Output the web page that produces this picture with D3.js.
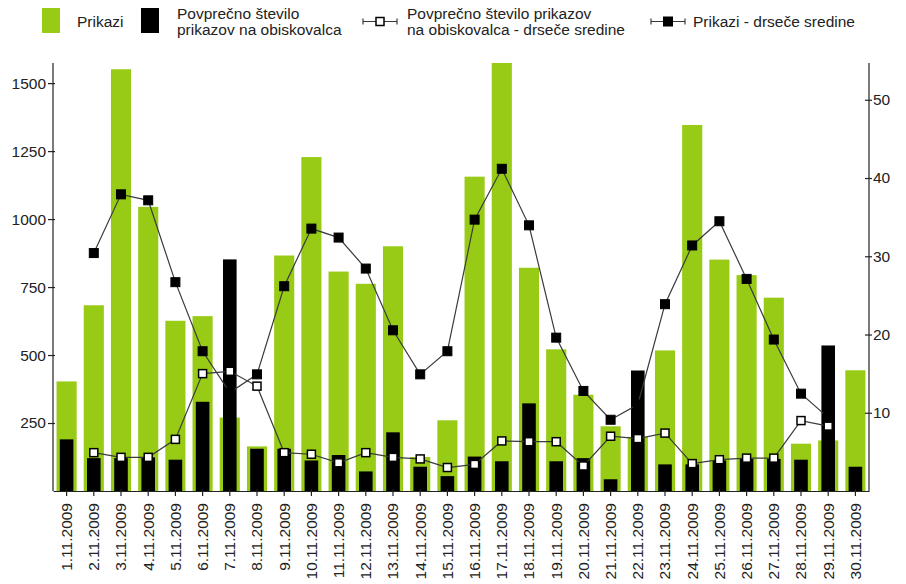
<!DOCTYPE html>
<html>
<head>
<meta charset="utf-8">
<script src="https://cdn.jsdelivr.net/npm/d3@7"></script>
<style>
  body { margin: 0; background: #ffffff; }
  text { font-family: "Liberation Sans", Arial, sans-serif; fill: #222; }
</style>
</head>
<body>
<div id="chart"></div>
<script>
const days = [
  "1.11.2009", "2.11.2009", "3.11.2009", "4.11.2009", "5.11.2009",
  "6.11.2009", "7.11.2009", "8.11.2009", "9.11.2009", "10.11.2009",
  "11.11.2009", "12.11.2009", "13.11.2009", "14.11.2009", "15.11.2009",
  "16.11.2009", "17.11.2009", "18.11.2009", "19.11.2009", "20.11.2009",
  "21.11.2009", "22.11.2009", "23.11.2009", "24.11.2009", "25.11.2009",
  "26.11.2009", "27.11.2009", "28.11.2009", "29.11.2009", "30.11.2009"
];
// Prikazi (left axis)
const prikazi = [403, 683, 1551, 1045, 626, 643, 270, 164, 866, 1228,
  807, 762, 900, 125, 260, 1156, 1574, 821, 521, 354,
  238, 199, 517, 1346, 851, 794, 711, 174, 186, 444];
// Povprecno stevilo prikazov na obiskovalca (right axis)
const povprecno = [6.6, 4.2, 4.2, 4.3, 4.0, 11.4, 29.6, 5.4, 5.4, 3.9,
  4.6, 2.5, 7.5, 3.1, 1.9, 4.4, 3.8, 11.2, 3.8, 4.2,
  1.5, 15.4, 3.4, 3.4, 3.9, 4.1, 4.1, 4.0, 18.6, 3.1];
// Prikazi - drsece sredine (left axis)
const prikaziSredine = [null, 875, 1091, 1069, 768, 514, 362, 429, 753, 965,
  932, 818, 591, 429, 514, 998, 1185, 977, 564, 368,
  262, 318, 687, 903, 992, 780, 557, 358, 270, null];
// Povprecno ... - drsece sredine (right axis)
const povprecnoSredine = [null, 4.9, 4.3, 4.3, 6.6, 15.0, 15.3, 13.4, 4.9, 4.7,
  3.6, 4.9, 4.3, 4.1, 3.0, 3.4, 6.4, 6.3, 6.3, 3.2,
  7.0, 6.7, 7.4, 3.5, 4.0, 4.2, 4.2, 9.0, 8.3, null];
const leftTicks = [250, 500, 750, 1000, 1250, 1500];
const rightTicks = [10, 20, 30, 40, 50];
const rightMax = 54.7;

const width = 906, height = 584;
const green = "#98cb16";
const lineColor = "#3a3a3a";
const margin = { top: 63, right: 37, bottom: 93, left: 53 };

const svg = d3.select("#chart").append("svg")
  .attr("width", width)
  .attr("height", height);

const x = d3.scaleBand()
  .domain(days)
  .range([margin.left, width - margin.right])
  .padding(0);

const yLeft = d3.scaleLinear()
  .domain([0, d3.max(prikazi)])
  .range([height - margin.bottom, margin.top]);

const yRight = d3.scaleLinear()
  .domain([0, rightMax])
  .range([height - margin.bottom, margin.top]);

const bw = x.bandwidth();
const cx = (d) => x(d) + bw / 2;

// green bars
svg.append("g").selectAll("rect")
  .data(days)
  .join("rect")
  .attr("x", (d) => cx(d) - bw * 0.37)
  .attr("width", bw * 0.74)
  .attr("y", (d, i) => yLeft(prikazi[i]))
  .attr("height", (d, i) => yLeft(0) - yLeft(prikazi[i]))
  .style("fill", green);

// black bars
svg.append("g").selectAll("rect")
  .data(days)
  .join("rect")
  .attr("x", (d) => cx(d) - bw * 0.25)
  .attr("width", bw * 0.5)
  .attr("y", (d, i) => yRight(povprecno[i]))
  .attr("height", (d, i) => yRight(0) - yRight(povprecno[i]))
  .style("fill", "#000");

function drawLine(values, scale, fill, size, strokeW) {
  const pts = days.map((d, i) => ({ d: d, v: values[i] }));
  const line = d3.line()
    .defined((p) => p.v !== null)
    .x((p) => cx(p.d))
    .y((p) => scale(p.v));
  svg.append("path")
    .datum(pts)
    .attr("d", line)
    .style("fill", "none")
    .style("stroke", lineColor)
    .style("stroke-width", 1.2);
  svg.append("g").selectAll("rect")
    .data(pts.filter((p) => p.v !== null))
    .join("rect")
    .attr("x", (p) => cx(p.d) - size / 2)
    .attr("y", (p) => scale(p.v) - size / 2)
    .attr("width", size)
    .attr("height", size)
    .style("fill", fill)
    .style("stroke", "#000")
    .style("stroke-width", strokeW);
}

drawLine(povprecnoSredine, yRight, "#fff", 8, 1.5);
drawLine(prikaziSredine, yLeft, "#000", 9, 1);

// axes
const leftAxis = d3.axisLeft(yLeft).tickValues(leftTicks).tickFormat(d3.format("d"))
  .tickSize(5).tickPadding(2);
const gl = svg.append("g")
  .attr("transform", `translate(${margin.left},0)`)
  .call(leftAxis);

const rightAxis = d3.axisRight(yRight).tickValues(rightTicks).tickSize(3).tickPadding(1);
const gr = svg.append("g")
  .attr("transform", `translate(${width - margin.right},0)`)
  .call(rightAxis);

const bottomAxis = d3.axisBottom(x).tickSize(5).tickSizeOuter(0);
const gb = svg.append("g")
  .attr("transform", `translate(0,${height - margin.bottom})`)
  .call(bottomAxis);

gb.selectAll("text")
  .attr("transform", "rotate(-90)")
  .attr("text-anchor", "end")
  .attr("x", -12)
  .attr("y", 0)
  .attr("dy", "0.35em");

[gl, gr, gb].forEach((g) => {
  g.select(".domain").style("stroke", "#222").style("stroke-width", 1.2);
  g.selectAll(".tick line").style("stroke", "#222").style("stroke-width", 1.2);
  g.selectAll("text")
    .style("font-family", "'Liberation Sans', Arial, sans-serif")
    .style("font-size", "15.5px")
    .style("fill", "#222");
});
// ticks slightly crossing the axis
gl.selectAll(".tick line").attr("x1", 2);
gr.selectAll(".tick line").attr("x1", -4).attr("x2", 3);
gb.selectAll(".tick line").attr("y1", -2);
gl.select(".domain").attr("d", `M0,${margin.top}V${height - margin.bottom}`);
gr.select(".domain").attr("d", `M0,${margin.top}V${height - margin.bottom}`);

// legend
const legend = svg.append("g").style("font-size", "15.5px");
legend.append("rect").attr("x", 42).attr("y", 8).attr("width", 18).attr("height", 25).style("fill", green);
legend.append("text").attr("x", 77).attr("y", 27).text("Prikazi");

legend.append("rect").attr("x", 141).attr("y", 8).attr("width", 18).attr("height", 25).style("fill", "#000");
legend.append("text").attr("x", 177).attr("y", 19).text("Povprečno število");
legend.append("text").attr("x", 177).attr("y", 35).text("prikazov na obiskovalca");

function legendMarker(x0, x1, fill, size, strokeW) {
  const ym = 21.5;
  legend.append("path")
    .attr("d", `M${x0},${ym}H${x1}M${x0},${ym - 3}V${ym + 3}M${x1},${ym - 3}V${ym + 3}`)
    .style("stroke", lineColor)
    .style("stroke-width", 1.2)
    .style("fill", "none");
  legend.append("rect")
    .attr("x", (x0 + x1) / 2 - size / 2)
    .attr("y", ym - size / 2)
    .attr("width", size)
    .attr("height", size)
    .style("fill", fill)
    .style("stroke", "#000")
    .style("stroke-width", strokeW);
}

legendMarker(363, 397, "#fff", 8, 1.5);
legend.append("text").attr("x", 407).attr("y", 19).text("Povprečno število prikazov");
legend.append("text").attr("x", 407).attr("y", 35).text("na obiskovalca - drseče sredine");

legendMarker(651, 685, "#000", 9, 1);
legend.append("text").attr("x", 693).attr("y", 27).text("Prikazi - drseče sredine");
</script>
</body>
</html>
